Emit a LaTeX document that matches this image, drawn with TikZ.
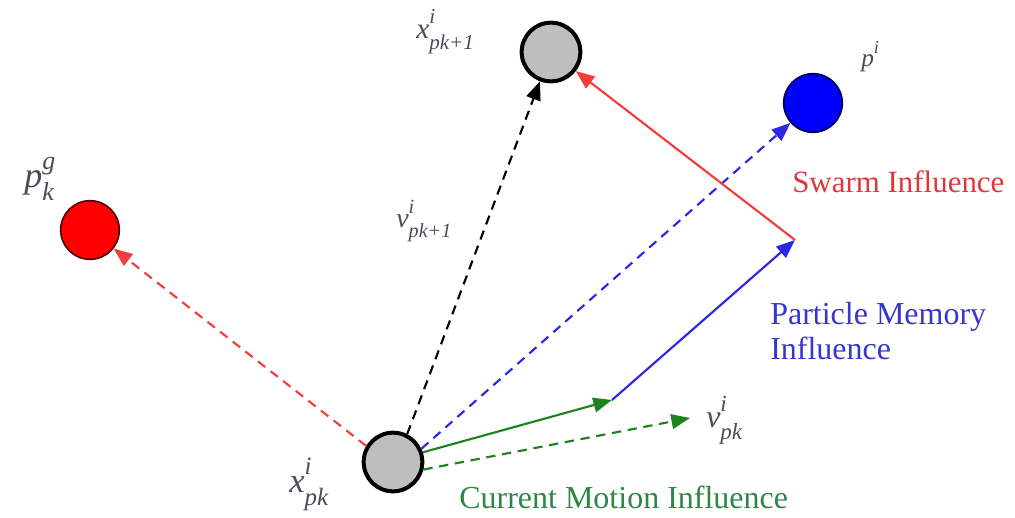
\documentclass[tikz,border=0pt]{standalone}
\usepackage{fontspec}
\setmainfont{Liberation Serif}
\usetikzlibrary{arrows.meta}
\definecolor{ballred}{RGB}{255,0,0}
\definecolor{ballblue}{RGB}{0,0,255}
\definecolor{ballgrey}{RGB}{190,190,190}
\definecolor{arrred}{RGB}{245,60,60}
\definecolor{arrblue}{RGB}{40,40,230}
\definecolor{arrgreen}{RGB}{30,130,30}
\definecolor{txtred}{RGB}{225,55,60}
\definecolor{txtblue}{RGB}{55,55,205}
\definecolor{txtgreen}{RGB}{45,135,70}
\definecolor{lblgrey}{RGB}{75,75,90}
% base, superscript, subscript
\newcommand{\mylab}[3]{\textit{#1}\rlap{\raisebox{0.5em}{\scalebox{0.72}{\textit{#2}}}}\raisebox{-0.38em}{\scalebox{0.72}{\textit{#3}}}}
\begin{document}
\begin{tikzpicture}[x=0.75pt,y=-0.75pt,
  ball/.style={circle,inner sep=0pt,minimum size=44pt},
  gball/.style={ball,fill=ballgrey,draw=black,line width=3pt},
  rball/.style={ball,fill=ballred,draw=black!70!red,line width=1.2pt},
  bball/.style={ball,fill=ballblue,draw=black!70!blue,line width=1.2pt},
  vec/.style={line width=1.6pt,-{Triangle[length=14pt,width=11pt]}},
  dsh/.style={dash pattern=on 7pt off 5pt},
  lbl/.style={text=lblgrey,inner sep=0pt,anchor=base west},
  txt/.style={inner sep=0pt,anchor=base west,font=\fontsize{24}{22}\selectfont}]
\useasboundingbox (0,0) rectangle (1015,518);
\fill[white] (0,0) rectangle (1015,518);
% balls
\node[gball] (xk) at (393,462) {};
\node[gball] (xk1) at (551,52) {};
\node[bball] (pi) at (813,103) {};
\node[rball] (pg) at (90,230) {};
\coordinate (g1) at (612,400);
\coordinate (b1) at (795,240);
\coordinate (vpk) at (690,418);
% vectors
\draw[vec,dsh,color=arrred] (xk.149) -- (pg);
\draw[vec,dsh,color=black] (xk.63) -- (xk1);
\draw[vec,dsh,color=arrblue] (xk.25) -- (pi);
\draw[vec,color=arrgreen] (xk.18) -- (g1);
\draw[vec,dsh,color=arrgreen] (xk.-14) -- (vpk);
\draw[vec,color=arrblue] (g1) -- (b1);
\draw[vec,color=arrred] (b1) -- (xk1);
% math labels
\node[lbl,font=\fontsize{26}{28}\selectfont] (lxk) at (289,492) {\mylab{x}{i}{pk}};
\node[lbl,font=\fontsize{22}{24}\selectfont] (lxk1) at (416,38) {\mylab{x}{i}{pk+1}};
\node[lbl,font=\fontsize{21}{22}\selectfont] (lvk1) at (396,227) {\mylab{v}{i}{pk+1}};
\node[lbl,font=\fontsize{24}{26}\selectfont] (lvk) at (706,427) {\mylab{v}{i}{pk}};
\node[lbl,font=\fontsize{19}{22}\selectfont] (lpi) at (861,66) {\textit{p}\raisebox{0.5em}{\scalebox{0.72}{\textit{i}}}};
\node[lbl,font=\fontsize{27}{28}\selectfont] (lpg) at (24,187) {\mylab{p}{g}{k}};
% text labels
\node[txt,text=txtred,font=\fontsize{23.2}{22}\selectfont] (swarm) at (792,192) {Swarm Influence};
\node[txt,text=txtblue,align=left,anchor=north west] (mem) at (770,302) {Particle Memory\\[3pt]Influence};
\node[txt,text=txtgreen] (cur) at (459,508) {Current Motion Influence};
\end{tikzpicture}
\end{document}
